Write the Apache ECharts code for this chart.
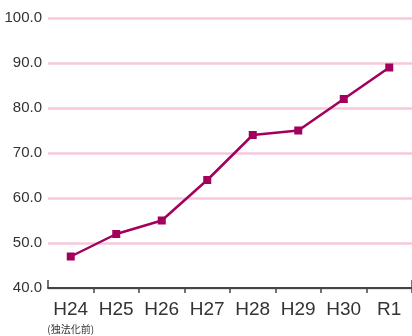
<!DOCTYPE html>
<html><head><meta charset="utf-8">
<script src="https://cdn.jsdelivr.net/npm/echarts@6/dist/echarts.min.js"></script>
<style>html,body{margin:0;padding:0;background:#fff}#c{width:412px;height:336px}</style>
</head><body><div id="c"></div>
<script>
var categories = ['H24', 'H25', 'H26', 'H27', 'H28', 'H29', 'H30', 'R1'];
var subLabels = ['(独法化前)', '', '', '', '', '', '', ''];
var values = [47, 52, 55, 64, 74, 75, 82, 89];
var yMin = 40, yMax = 100, yStep = 10;

var chart = echarts.init(document.getElementById('c'), null, {renderer: 'canvas'});
chart.setOption({
  animation: false,
  grid: {left: 48, right: -2, top: 18, bottom: 48, containLabel: false},
  xAxis: [{
    type: 'category', data: categories, boundaryGap: true,
    axisLine: {show: true, lineStyle: {color: '#444', width: 2}},
    axisTick: {show: true, length: 5, lineStyle: {color: '#444', width: 1.5},
      interval: function (i) { return i > 0; }},
    axisLabel: {
      margin: 12, color: '#333', fontSize: 19, fontFamily: 'Liberation Sans',
      interval: 0,
      formatter: function (v, i) {
        return subLabels[i] ? v + '\n{s|' + subLabels[i] + '}' : v;
      },
      rich: {s: {fontSize: 10, color: '#333', fontFamily: 'Noto Sans CJK JP', lineHeight: 14, padding: [7, 0, 0, 0]}}
    },
    splitLine: {show: false}
  }, {
    type: 'category', data: categories, boundaryGap: true, position: 'bottom',
    axisLine: {show: false},
    axisTick: {show: true, inside: true, length: 8, lineStyle: {color: '#444', width: 1.5},
      interval: function (i) { return i === 0; }},
    axisLabel: {show: false}
  }],
  yAxis: {
    type: 'value', min: yMin, max: yMax, interval: yStep,
    axisLine: {show: false}, axisTick: {show: false},
    axisLabel: {margin: 6, color: '#333', fontSize: 15, fontFamily: 'Liberation Sans',
      formatter: function (v) { return v.toFixed(1); }},
    splitLine: {show: true, lineStyle: {color: '#f7c8dc', width: 2.5}}
  },
  series: [{
    type: 'line', data: values, xAxisIndex: 0,
    symbol: 'rect', symbolSize: 8,
    lineStyle: {color: '#a2005c', width: 2.5},
    itemStyle: {color: '#a2005c'}
  }]
});
</script></body></html>
